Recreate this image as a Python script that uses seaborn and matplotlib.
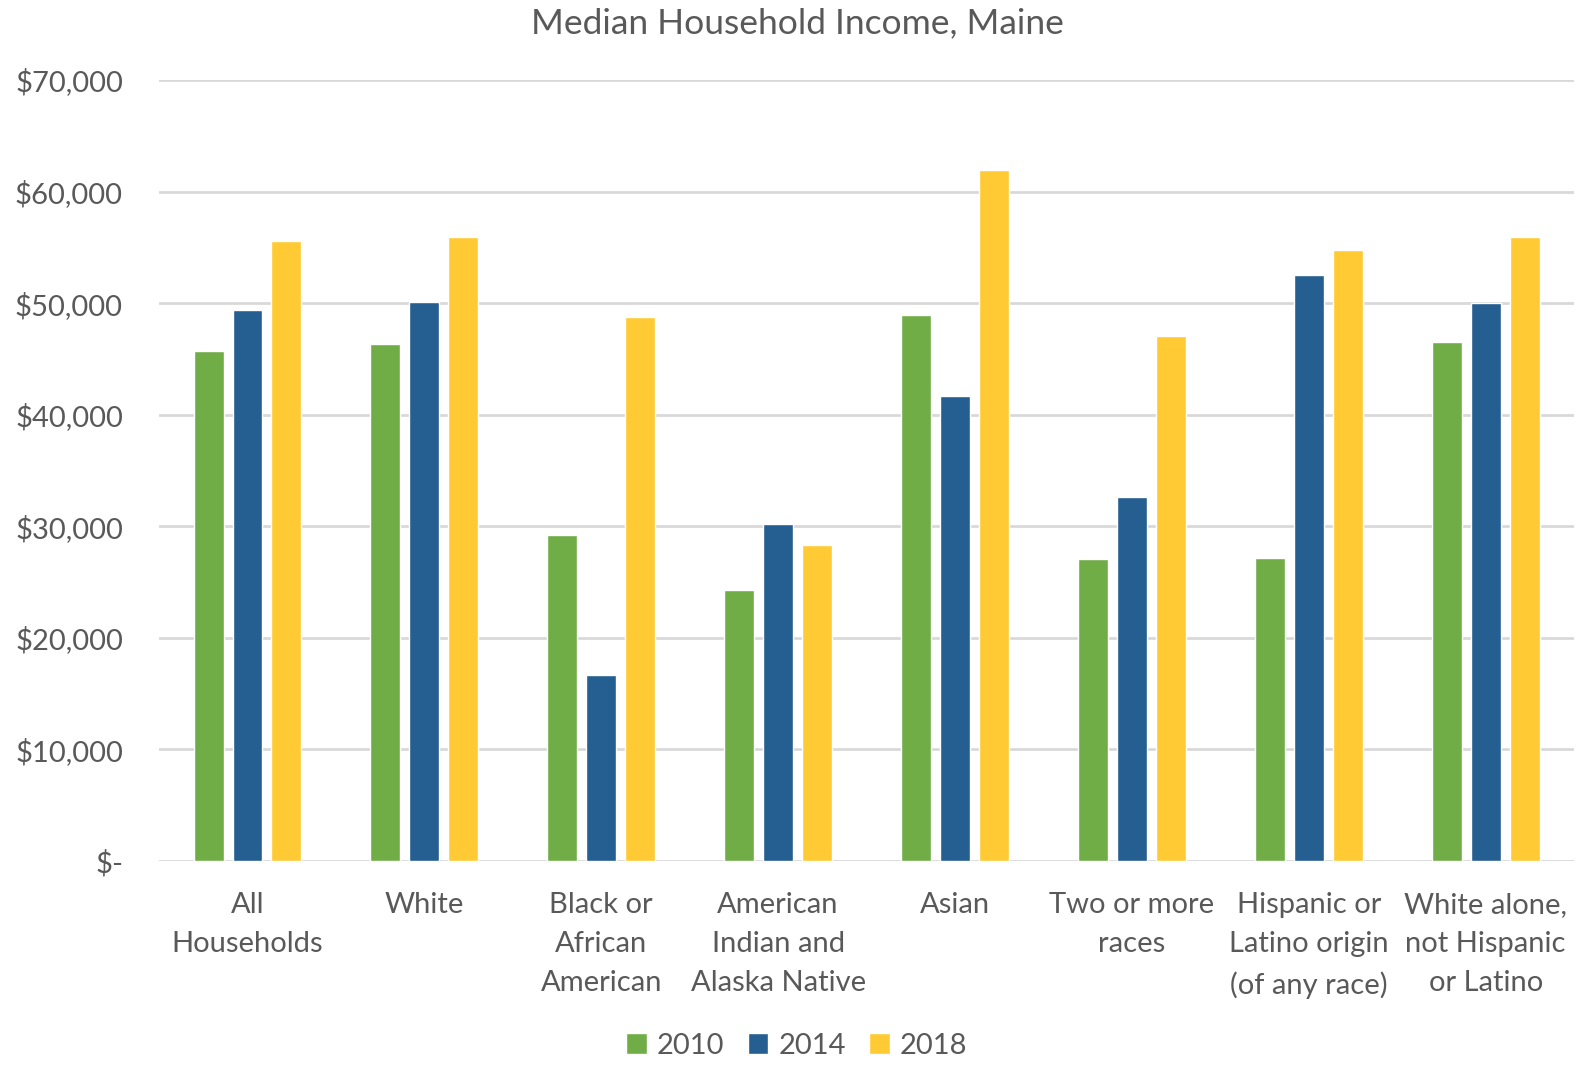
import pandas as pd
import matplotlib.pyplot as plt
import seaborn as sns
from matplotlib.ticker import FuncFormatter

# Data
groups = [
    "All\nHouseholds",
    "White",
    "Black or\nAfrican\nAmerican",
    "American\nIndian and\nAlaska Native",
    "Asian",
    "Two or more\nraces",
    "Hispanic or\nLatino origin\n(of any race)",
    "White alone,\nnot Hispanic\nor Latino",
]
years = ["2010", "2014", "2018"]
income_2010 = [45700, 46300, 29200, 24300, 48900, 27100, 27200, 46500]
income_2014 = [49400, 50100, 16700, 30200, 41700, 32600, 52500, 50000]
income_2018 = [55600, 55900, 48800, 28300, 61900, 47100, 54800, 55900]

colors = ["#70AD47", "#255E91", "#FFCA33"]
text_color = "#595959"

df = pd.DataFrame({
    "group": groups * 3,
    "year": [y for y in years for _ in groups],
    "income": income_2010 + income_2014 + income_2018,
})

sns.set_style("white")
plt.rcParams["font.family"] = ["Lato", "DejaVu Sans"]

fig = plt.figure(figsize=(15.94, 10.67), dpi=100)
ax = fig.add_axes([0.0998, 0.193, 0.8877, 0.732])

sns.barplot(data=df, x="group", y="income", hue="year", palette=colors,
            width=0.66, gap=0.23, saturation=1, ax=ax, errorbar=None)

ax.set_ylim(0, 70000)
ax.set_xlim(-0.5, len(groups) - 0.5)
ax.set_yticks(range(0, 70001, 10000))
ax.yaxis.set_major_formatter(FuncFormatter(lambda v, p: "$-" if v == 0 else f"${v:,.0f}"))
ax.grid(axis="y", color="#D9D9D9", linewidth=2)
ax.set_axisbelow(True)
for s in ax.spines.values():
    s.set_visible(False)
ax.tick_params(axis="y", length=0, pad=26, labelsize=21, labelcolor=text_color)
ax.tick_params(axis="x", length=0, pad=22, labelsize=21, labelcolor=text_color)
for lbl in ax.get_xticklabels():
    lbl.set_linespacing(1.63)
ax.set_xlabel("")
ax.set_ylabel("")

fig.suptitle("Median Household Income, Maine", y=0.993, fontsize=25.5, color=text_color)

sns.move_legend(ax, "center", bbox_to_anchor=(0.5, 0.02), bbox_transform=fig.transFigure,
                ncol=3, frameon=False, title=None, fontsize=21, labelcolor=text_color,
                handlelength=0.7, handleheight=0.7, handletextpad=0.35, columnspacing=0.8)

fig.savefig("out.png", dpi=100)
